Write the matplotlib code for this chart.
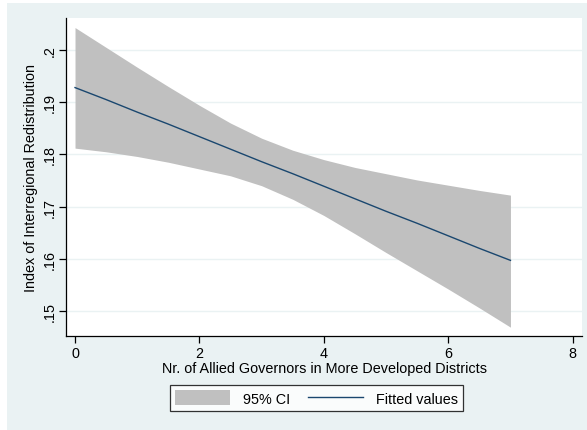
import matplotlib
matplotlib.use("Agg")
import matplotlib.pyplot as plt
from matplotlib.patches import Rectangle, Patch
from matplotlib.lines import Line2D

plt.rcParams['font.family'] = ['Liberation Sans', 'DejaVu Sans']

# Number of allied governors in more developed districts
governors = [0, 0.5, 1, 1.5, 2, 2.5, 3, 3.5, 4, 4.5, 5, 5.5, 6, 6.5, 7]
# Linear fit of the redistribution index
fitted = [0.1928, 0.1905, 0.1881, 0.1858, 0.1834, 0.1810, 0.1786, 0.1763,
          0.1739, 0.1715, 0.1691, 0.1668, 0.1644, 0.1620, 0.1597]
# 95% confidence band
ci_upper = [0.2043, 0.2005, 0.1967, 0.1930, 0.1894, 0.1860, 0.1831, 0.1808,
            0.1790, 0.1775, 0.1763, 0.1751, 0.1741, 0.1731, 0.1722]
ci_lower = [0.1812, 0.1805, 0.1796, 0.1785, 0.1772, 0.1759, 0.1740, 0.1714,
            0.1683, 0.1648, 0.1612, 0.1577, 0.1542, 0.1506, 0.1469]

x_ticks = [0, 2, 4, 6, 8]
y_ticks = [0.15, 0.16, 0.17, 0.18, 0.19, 0.20]
y_tick_labels = ['.15', '.16', '.17', '.18', '.19', '.2']

BG = '#EAF2F3'
BAND = '#C0C0C0'
NAVY = '#1A476F'
FS = 10.4

W, H = 587, 431
fig = plt.figure(figsize=(W / 100, H / 100), dpi=100)
fig.patch.set_facecolor('white')
fig.patches.append(Rectangle((7 / W, 0), 1 - 7 / W, 1 - 4 / H,
                             transform=fig.transFigure, facecolor=BG,
                             edgecolor='none', zorder=-10))

ax = fig.add_axes([66 / W, 1 - 337 / H, (582 - 66) / W, (337 - 19) / H])
ax.set_facecolor('white')

ax.fill_between(governors, ci_lower, ci_upper, color=BAND, linewidth=0,
                zorder=2)
ax.plot(governors, fitted, color=NAVY, linewidth=1.0, zorder=3)

ax.set_xlim(-0.145, 8.15)
ax.set_ylim(0.14521, 0.20613)
ax.set_xticks(x_ticks)
ax.set_yticks(y_ticks)
ax.set_yticklabels(y_tick_labels, rotation=90, va='center')
ax.grid(axis='y', color=BG, linewidth=1.0, zorder=0)
ax.grid(axis='x', visible=False)

for side in ('top', 'right'):
    ax.spines[side].set_visible(False)
for side in ('left', 'bottom'):
    ax.spines[side].set_color('black')
    ax.spines[side].set_linewidth(0.9)

ax.tick_params(direction='out', length=5, width=0.9, labelsize=FS,
               colors='black', pad=2)

ax.set_xlabel('Nr. of Allied Governors in More Developed Districts',
              fontsize=FS, labelpad=1)
ax.set_ylabel('Index of Interregional Redistribution', fontsize=FS,
              labelpad=3)

handles = [Patch(facecolor=BAND, edgecolor='none'),
           Line2D([0], [0], color=NAVY, linewidth=1.0)]
leg = fig.legend(handles, ['95% CI', 'Fitted values'], loc='center',
                 bbox_to_anchor=(316.5 / W, 1 - 399 / H), ncol=2,
                 frameon=True, fancybox=False, fontsize=FS,
                 handlelength=3.8, handleheight=1.2, columnspacing=1.2,
                 handletextpad=0.9, borderpad=0.4, borderaxespad=0.3)
leg.get_frame().set_edgecolor('black')
leg.get_frame().set_linewidth(0.9)
leg.get_frame().set_facecolor('white')

fig.savefig('out.png', dpi=100, facecolor=fig.get_facecolor())
